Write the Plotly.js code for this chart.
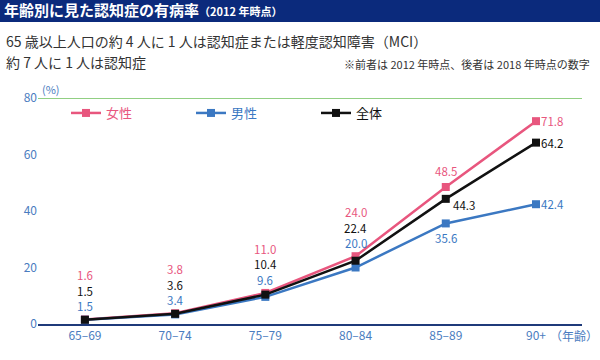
<!DOCTYPE html>
<html><head><meta charset="utf-8">
<script src="https://cdn.plot.ly/plotly-3.0.1.min.js"></script>
<style>body{margin:0;background:#fff}#c{width:600px;height:360px}</style></head>
<body><div id="c"></div>
<script>
const categories = ['65–69', '70–74', '75–79', '80–84', '85–89', '90+'];
const women = [1.6, 3.8, 11.0, 24.0, 48.5, 71.8];
const men = [1.5, 3.4, 9.6, 20.0, 35.6, 42.4];
const total = [1.5, 3.6, 10.4, 22.4, 44.3, 64.2];
const seriesNames = ['女性', '男性', '全体'];
const yTicks = [0, 20, 40, 60, 80];
const titleText = '年齢別に見た認知症の有病率';
const titleSub = '（2012 年時点）';
const subtitle1 = '65 歳以上人口の約 4 人に 1 人は認知症または軽度認知障害（MCI）';
const subtitle2 = '約 7 人に 1 人は認知症';
const noteText = '※前者は 2012 年時点、後者は 2018 年時点の数字';

const PINK = '#e8567e', BLUE = '#3b78c2', BLACK = '#111111', TICK = '#4a7cc0';
const FONT = 'Noto Sans CJK JP, Noto Sans, sans-serif';
const W = 600, H = 360, L = 38, R = 18, T = 98, B = 36;
const pw = W - L - R, ph = H - T - B;
const px = x => (x - L) / pw;
const py = y => (H - B - y) / ph;

const colors = [PINK, BLUE, BLACK];
const series = [women, men, total];
const traces = series.map((s, k) => ({
  x: categories, y: s, type: 'scatter', mode: 'lines+markers',
  name: '<span style="color:' + colors[k] + '">' + seriesNames[k] + '</span>',
  line: {color: colors[k], width: 2.5},
  marker: {symbol: 'square', size: 8, color: colors[k]},
  cliponaxis: false, hoverinfo: 'skip'
}));

const ann = [];
const fmt = v => v.toFixed(1);
const LF = 11.5;
const lbl = (x, y, text, color, extra) => Object.assign({x: x, y: y, xref: 'x', yref: 'y', text: text,
  showarrow: false, borderpad: 0, borderwidth: 0, font: {color: color, size: LF, family: FONT}}, extra || {});
for (let i = 0; i < categories.length; i++) {
  if (i < 4) {
    [[women, PINK, 44], [total, BLACK, 28.5], [men, BLUE, 13]].forEach(([s, c, sh]) => {
      ann.push(lbl(categories[i], women[i], fmt(s[i]), c, {yshift: sh}));
    });
  } else if (i === 4) {
    ann.push(lbl(categories[i], women[i], fmt(women[i]), PINK, {yshift: 16}));
    ann.push(lbl(categories[i], total[i], fmt(total[i]), BLACK, {xanchor: 'left', xshift: 7, yshift: -6}));
    ann.push(lbl(categories[i], men[i], fmt(men[i]), BLUE, {yshift: -15}));
  } else {
    [[women, PINK], [total, BLACK], [men, BLUE]].forEach(([s, c]) => {
      ann.push(lbl(categories[i], s[i], fmt(s[i]), c, {xanchor: 'left', xshift: 5}));
    });
  }
}
ann.push({xref: 'paper', yref: 'paper', x: px(4), y: py(41), xanchor: 'left', yanchor: 'middle', showarrow: false,
  text: subtitle1, font: {size: 14, color: '#333', family: FONT}});
ann.push({xref: 'paper', yref: 'paper', x: px(4), y: py(62), xanchor: 'left', yanchor: 'middle', showarrow: false,
  text: subtitle2, font: {size: 14, color: '#333', family: FONT}});
ann.push({xref: 'paper', yref: 'paper', x: px(592), y: py(64), xanchor: 'right', yanchor: 'middle', showarrow: false,
  text: noteText, font: {size: 11, color: '#333', family: FONT}});
ann.push({xref: 'paper', yref: 'paper', x: px(40), y: py(89), xanchor: 'left', yanchor: 'middle', showarrow: false,
  text: '(%)', font: {size: 11, color: TICK, family: FONT}});
ann.push({xref: 'paper', yref: 'paper', x: px(548), y: py(335), xanchor: 'left', yanchor: 'middle', showarrow: false,
  text: '（年齢）', font: {size: 12, color: TICK, family: FONT}});

const layout = {
  width: W, height: H, margin: {l: L, r: R, t: T, b: B},
  paper_bgcolor: '#fff', plot_bgcolor: '#fff',
  font: {family: FONT},
  title: {text: '<b>' + titleText + '</b><span style="font-size:11px"><b>' + titleSub + '</b></span>',
    x: 4 / W, xanchor: 'left', xref: 'container', y: 1 - 11 / H, yanchor: 'middle', yref: 'container',
    font: {color: '#fff', size: 15, family: FONT}},
  showlegend: true,
  legend: {orientation: 'h', x: px(66), xanchor: 'left', y: py(113), yanchor: 'middle',
    entrywidth: 80, entrywidthmode: 'pixels', bgcolor: 'rgba(0,0,0,0)', font: {size: 13, family: FONT}},
  xaxis: {type: 'category', range: [-0.52, 5.51], showgrid: false, zeroline: false,
    showline: true, linecolor: '#1f3a7a', linewidth: 1.5, ticks: '',
    tickfont: {color: TICK, size: 12, family: FONT}, fixedrange: true},
  yaxis: {range: [0, 80], tickvals: yTicks, showgrid: false, zeroline: false, showline: false,
    ticks: '', tickfont: {color: TICK, size: 12, family: FONT}, fixedrange: true},
  shapes: [
    {type: 'rect', xref: 'paper', yref: 'paper', x0: px(0), x1: px(600), y0: py(22), y1: py(0),
      fillcolor: '#0b2a7c', line: {width: 0}, layer: 'below'},
    {type: 'line', xref: 'paper', yref: 'y', x0: 0, x1: 1, y0: 80, y1: 80,
      line: {color: '#6cbf5a', width: 1.5}}
  ],
  annotations: ann
};
Plotly.newPlot('c', traces, layout, {displayModeBar: false, staticPlot: true});
</script></body></html>
